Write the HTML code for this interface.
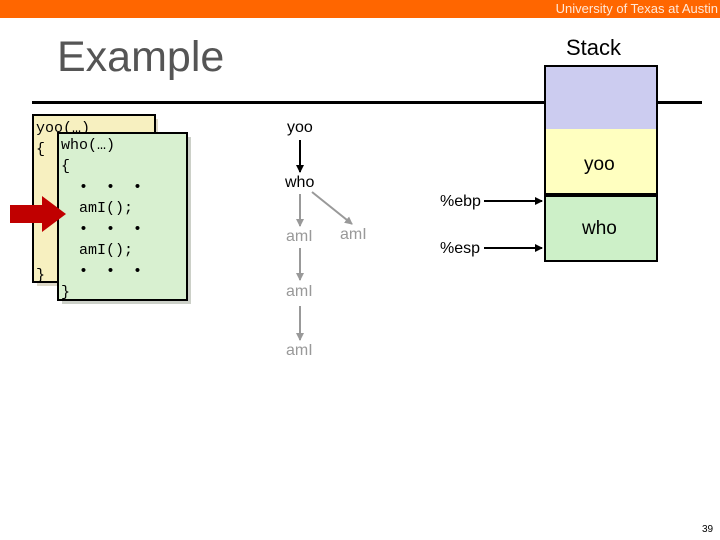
<!DOCTYPE html>
<html><head><style>
body{margin:0;width:720px;height:540px;background:#fff;position:relative;overflow:hidden;font-family:"Liberation Sans",sans-serif}
.a{position:absolute}
.mono{font-family:"Liberation Mono",monospace;font-size:15px;line-height:21px;white-space:pre}
</style></head><body>
<div class="a" style="left:0;top:0;width:720px;height:18px;background:#ff6600"></div>
<div class="a" style="right:2px;top:1px;color:#ffe8d8;font-size:13px">University of Texas at Austin</div>
<div class="a" style="left:57px;top:33px;font-size:43px;color:#555">Example</div>
<div class="a" style="left:566px;top:35px;font-size:22px;color:#000">Stack</div>
<div class="a" style="left:32px;top:101px;width:513px;height:3px;background:#000"></div>
<div class="a" style="left:656px;top:101px;width:46px;height:3px;background:#000"></div>
<div class="a" style="left:544px;top:65px;width:110px;height:64px;background:#ccccf0;border:2px solid #000"></div>
<div class="a" style="left:544px;top:129px;width:110px;height:64px;background:#ffffc0;border:2px solid #000;border-top:0"></div>
<div class="a" style="left:544px;top:195px;width:110px;height:63px;background:#cdf0c8;border:2px solid #000"></div>
<div class="a" style="left:584px;top:154px;font-size:19px">yoo</div>
<div class="a" style="left:582px;top:218px;font-size:19px">who</div>
<div class="a" style="left:440px;top:193px;font-size:16px">%ebp</div>
<div class="a" style="left:440px;top:240px;font-size:16px">%esp</div>
<svg class="a" style="left:0;top:0" width="720" height="540">
<defs><marker id="m" markerWidth="4" markerHeight="4" refX="3.5" refY="2" orient="auto"><path d="M0,0L4,2L0,4z" fill="#000"/></marker>
<marker id="g" markerWidth="4" markerHeight="4" refX="3.5" refY="2" orient="auto"><path d="M0,0L4,2L0,4z" fill="#999"/></marker></defs>
<line x1="484" y1="201" x2="542" y2="201" stroke="#000" stroke-width="2" marker-end="url(#m)"/>
<line x1="484" y1="248" x2="542" y2="248" stroke="#000" stroke-width="2" marker-end="url(#m)"/>
<line x1="300" y1="140" x2="300" y2="172" stroke="#000" stroke-width="2" marker-end="url(#m)"/>
<line x1="300" y1="194" x2="300" y2="226" stroke="#999" stroke-width="2" marker-end="url(#g)"/>
<line x1="312" y1="192" x2="352" y2="224" stroke="#999" stroke-width="2" marker-end="url(#g)"/>
<line x1="300" y1="248" x2="300" y2="280" stroke="#999" stroke-width="2" marker-end="url(#g)"/>
<line x1="300" y1="306" x2="300" y2="340" stroke="#999" stroke-width="2" marker-end="url(#g)"/>
</svg>
<div class="a" style="left:287px;top:119px;font-size:16px">yoo</div>
<div class="a" style="left:285px;top:174px;font-size:16px">who</div>
<div class="a" style="left:286px;top:228px;font-size:16px;color:#999">amI</div>
<div class="a" style="left:340px;top:226px;font-size:16px;color:#999">amI</div>
<div class="a" style="left:286px;top:283px;font-size:16px;color:#999">amI</div>
<div class="a" style="left:286px;top:342px;font-size:16px;color:#999">amI</div>
<div class="a" style="left:37px;top:119px;width:121px;height:167px;background:#ddd8c8"></div>
<div class="a" style="left:32px;top:114px;width:120px;height:165px;background:#f7f0c0;border:2px solid #000"></div>
<div class="a mono" style="left:36px;top:118px">yoo(…)
{



      
       
}</div>
<div class="a" style="left:62px;top:137px;width:129px;height:167px;background:#ccd0c8"></div>
<div class="a" style="left:57px;top:132px;width:127px;height:165px;background:#d8f0d0;border:2px solid #000"></div>
<div class="a mono" style="left:61px;top:135px">who(…)
{
  •  •  •
  amI();
  •  •  •
  amI();
  •  •  •
}</div>
<svg class="a" style="left:8px;top:195px" width="60" height="40"><path d="M2,10H34V1L58,19L34,37V28H2z" fill="#c00000"/></svg>
<div class="a" style="left:702px;top:524px;font-size:10px">39</div>
</body></html>
